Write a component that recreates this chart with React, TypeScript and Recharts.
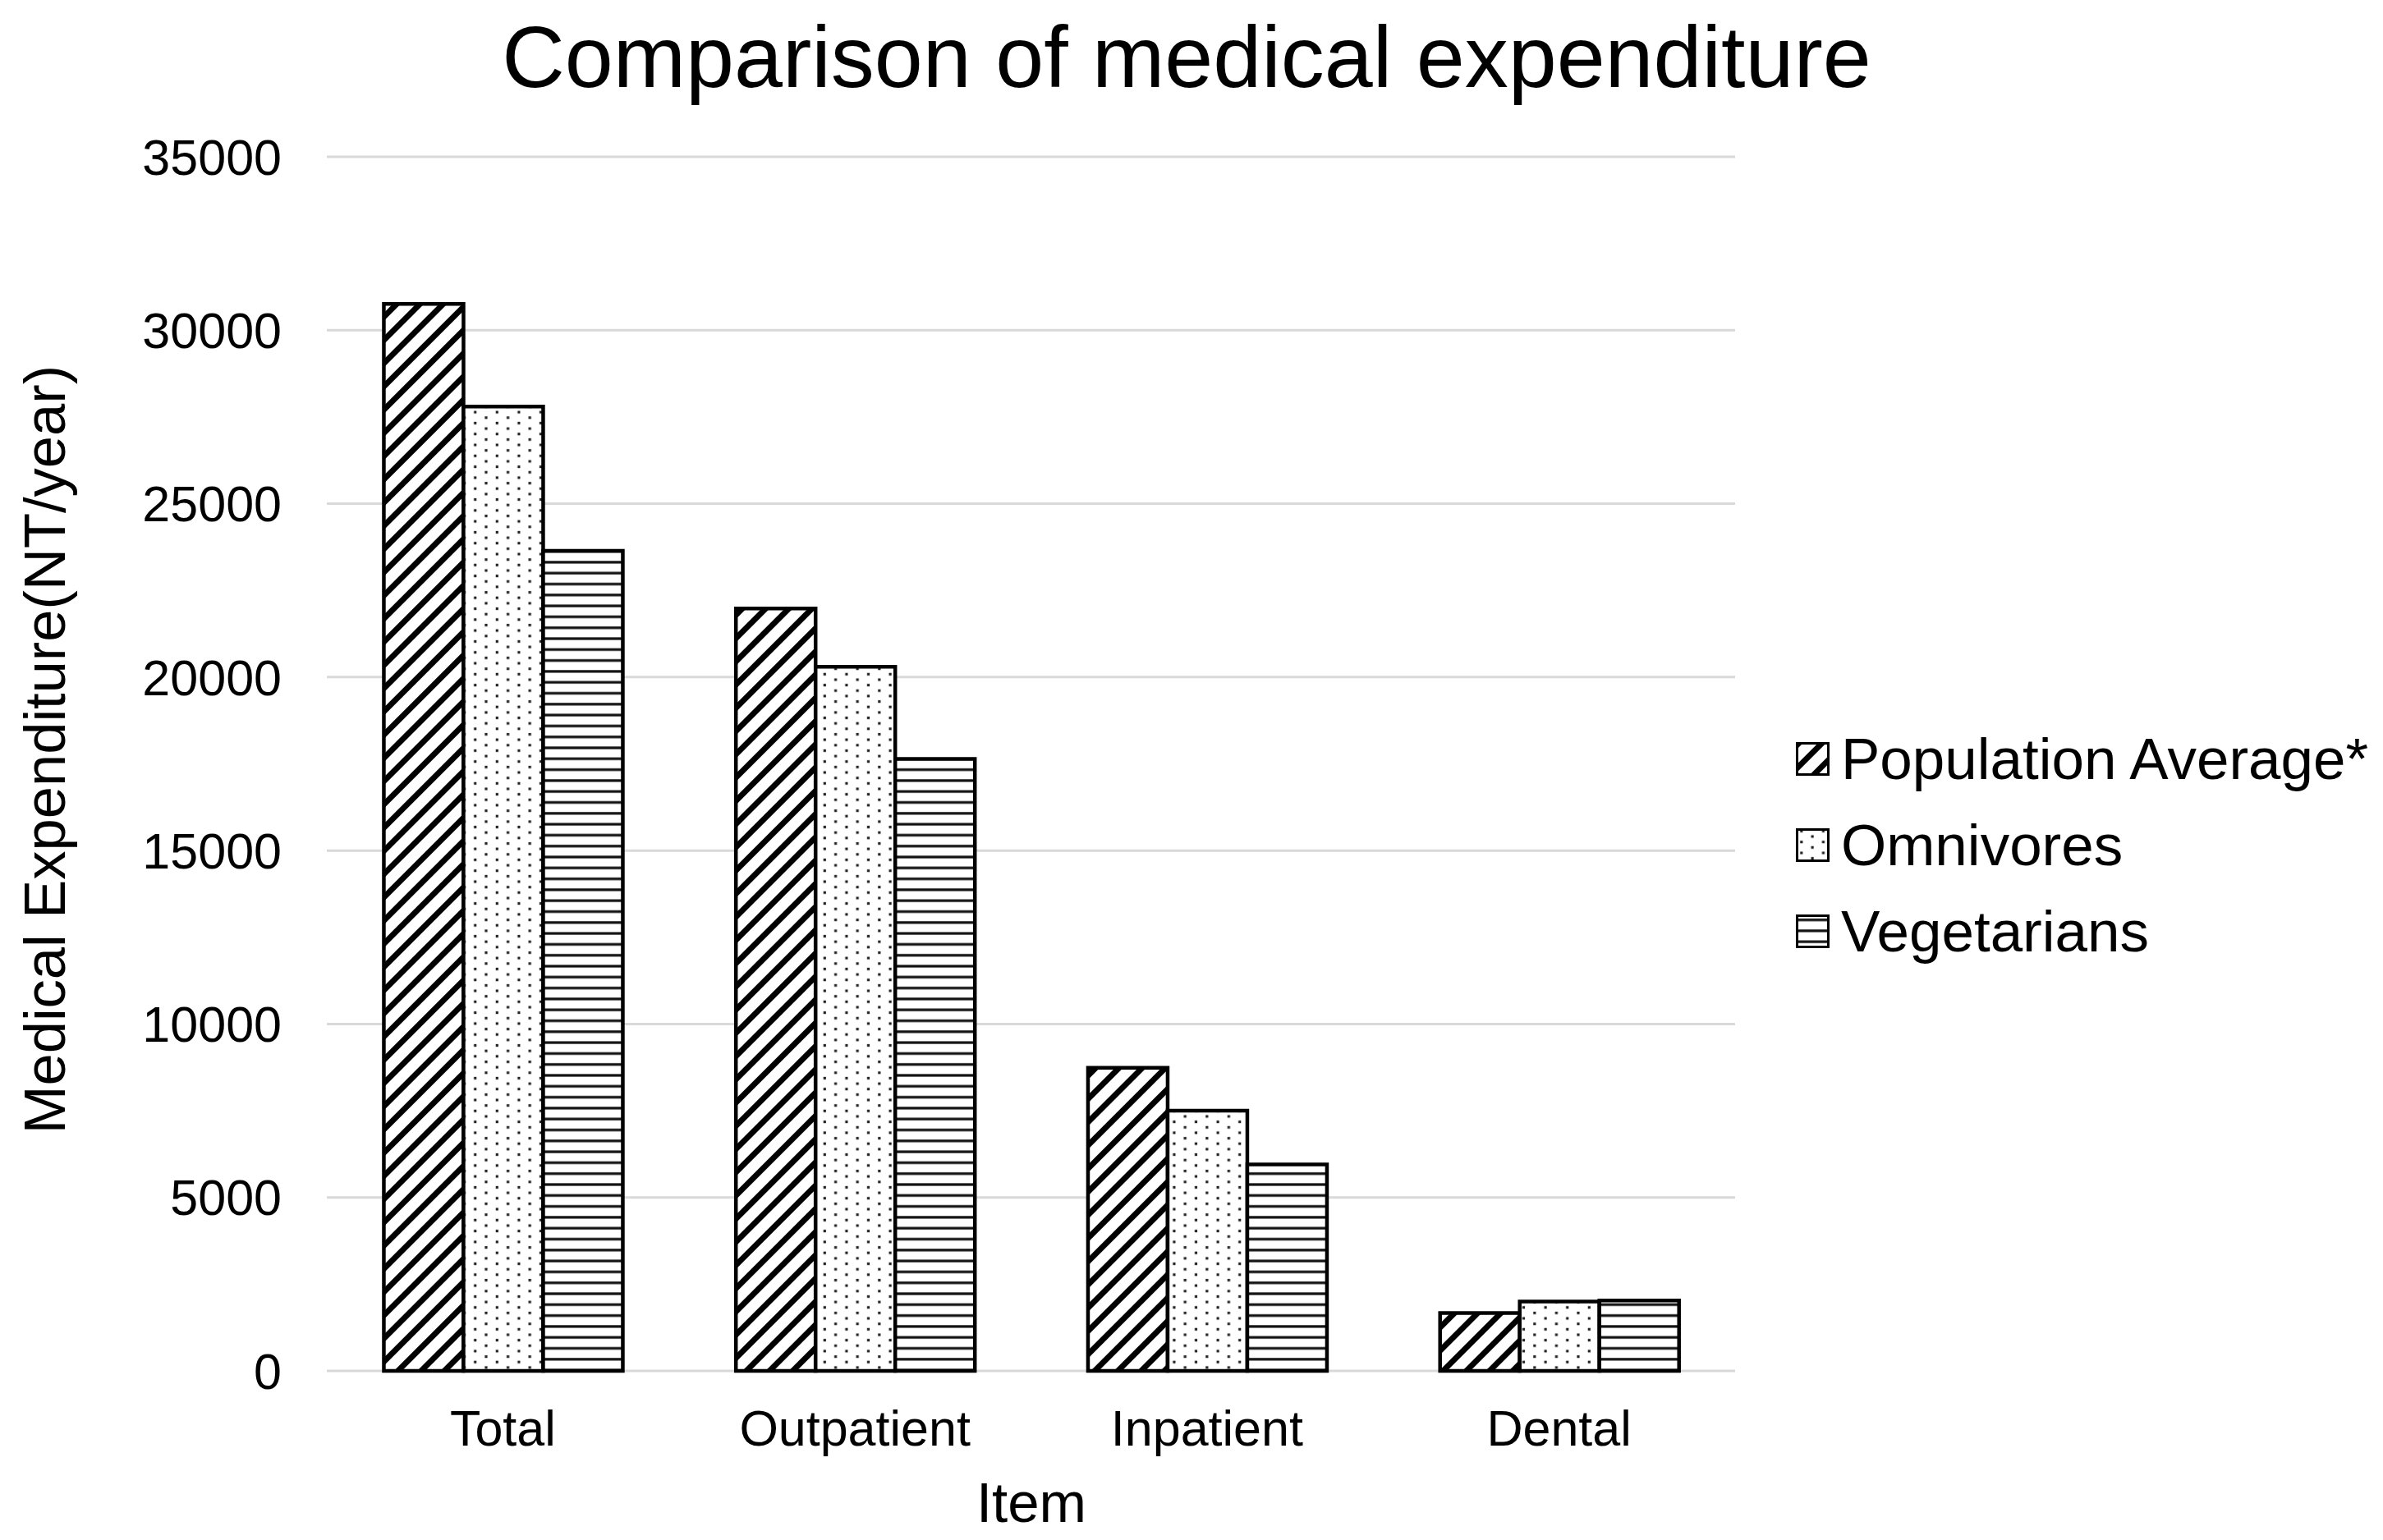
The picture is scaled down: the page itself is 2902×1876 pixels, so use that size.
import React from 'react';
import { BarChart, Bar, XAxis, YAxis, CartesianGrid, Legend } from 'recharts';

const categories = ['Total', 'Outpatient', 'Inpatient', 'Dental'];
const populationAverage = [30760, 21980, 8740, 1670];
const omnivores = [27800, 20300, 7500, 2000];
const vegetarians = [23640, 17640, 5950, 2030];
const yTicks = [0, 5000, 10000, 15000, 20000, 25000, 30000, 35000];
const seriesNames = ['Population Average*', 'Omnivores', 'Vegetarians'];
const titleText = 'Comparison of medical expenditure';
const yTitle = 'Medical Expenditure(NT/year)';
const xTitle = 'Item';

const data = categories.map((c, i) => ({
  item: c,
  pop: populationAverage[i],
  omni: omnivores[i],
  veg: vegetarians[i],
}));

const series = [
  { key: 'pop', name: seriesNames[0], fill: 'url(#hatchPattern)' },
  { key: 'omni', name: seriesNames[1], fill: 'url(#dotPattern)' },
  { key: 'veg', name: seriesNames[2], fill: 'url(#stripePattern)' },
];

const FONT = '"Liberation Sans", Arial, Helvetica, sans-serif';
const W = 2902;
const H = 1876;

const renderLegend = () => (
  <div style={{ fontFamily: FONT }}>
    {series.map((s) => (
      <div
        key={s.key}
        style={{ display: 'flex', alignItems: 'center', height: 105 }}
      >
        <svg width={41} height={41} style={{ flex: '0 0 auto' }}>
          <rect x={1.5} y={1.5} width={38} height={38} fill={s.fill} stroke="#000" strokeWidth={3} />
        </svg>
        <span style={{ marginLeft: 14, fontSize: 71, color: '#000', lineHeight: 1, whiteSpace: 'nowrap' }}>
          {s.name}
        </span>
      </div>
    ))}
  </div>
);

export default function App() {
  return (
    <div style={{ position: 'absolute', left: 0, top: 0, width: W, height: H, background: '#fff' }}>
      <BarChart
        width={W}
        height={H}
        data={data}
        margin={{ top: 191, right: 789, bottom: 0, left: 98 }}
        barCategoryGap="16.2%"
        barGap={0}
      >
        <defs>
          <pattern id="hatchPattern" patternUnits="userSpaceOnUse" width={20} height={20} patternTransform="rotate(45)">
            <rect x={0} y={0} width={20} height={20} fill="#fff" />
            <rect x={0} y={0} width={7} height={20} fill="#000" />
          </pattern>
          <pattern id="dotPattern" patternUnits="userSpaceOnUse" width={26.6} height={13.3}>
            <rect x={0} y={0} width={26.6} height={13.3} fill="#fff" />
            <rect x={5.2} y={1.8} width={3.2} height={3.2} fill="#222" />
            <rect x={18.5} y={8.4} width={3.2} height={3.2} fill="#222" />
          </pattern>
          <pattern id="stripePattern" patternUnits="userSpaceOnUse" width={20} height={13.3}>
            <rect x={0} y={0} width={20} height={13.3} fill="#fff" />
            <rect x={0} y={5} width={20} height={3.2} fill="#111" />
          </pattern>
        </defs>
        <CartesianGrid vertical={false} stroke="#d9d9d9" strokeWidth={3} />
        <XAxis
          dataKey="item"
          height={206}
          axisLine={false}
          tickLine={false}
          tickSize={0}
          tickMargin={48}
          tick={{ fontSize: 61, fill: '#000', fontFamily: FONT }}
          label={{
            content: () => (
              <text x={1256} y={1854} textAnchor="middle" fontSize={69} fill="#000" fontFamily={FONT}>
                {xTitle}
              </text>
            ),
          }}
        />
        <YAxis
          width={300}
          domain={[0, 35000]}
          ticks={yTicks}
          interval={0}
          axisLine={false}
          tickLine={false}
          tickSize={0}
          tickMargin={55}
          tick={{ fontSize: 61, fill: '#000', fontFamily: FONT }}
          label={{
            content: () => (
              <text
                transform="translate(79, 913) rotate(-90)"
                textAnchor="middle"
                fontSize={70.5}
                fill="#000"
                fontFamily={FONT}
              >
                {yTitle}
              </text>
            ),
          }}
        />
        {series.map((s) => (
          <Bar
            key={s.key}
            dataKey={s.key}
            name={s.name}
            fill={s.fill}
            stroke="#000"
            strokeWidth={4.5}
            isAnimationActive={false}
          />
        ))}
        <Legend
          layout="vertical"
          align="center"
          verticalAlign="middle"
          content={renderLegend}
          wrapperStyle={{ left: 2187, top: 872, width: 715, height: 320 }}
        />
      </BarChart>
      <svg
        width={W}
        height={160}
        style={{ position: 'absolute', left: 0, top: 0, pointerEvents: 'none' }}
      >
        <text x={1445} y={106} textAnchor="middle" fontSize={106} fill="#000" fontFamily={FONT}>
          {titleText}
        </text>
      </svg>
    </div>
  );
}
